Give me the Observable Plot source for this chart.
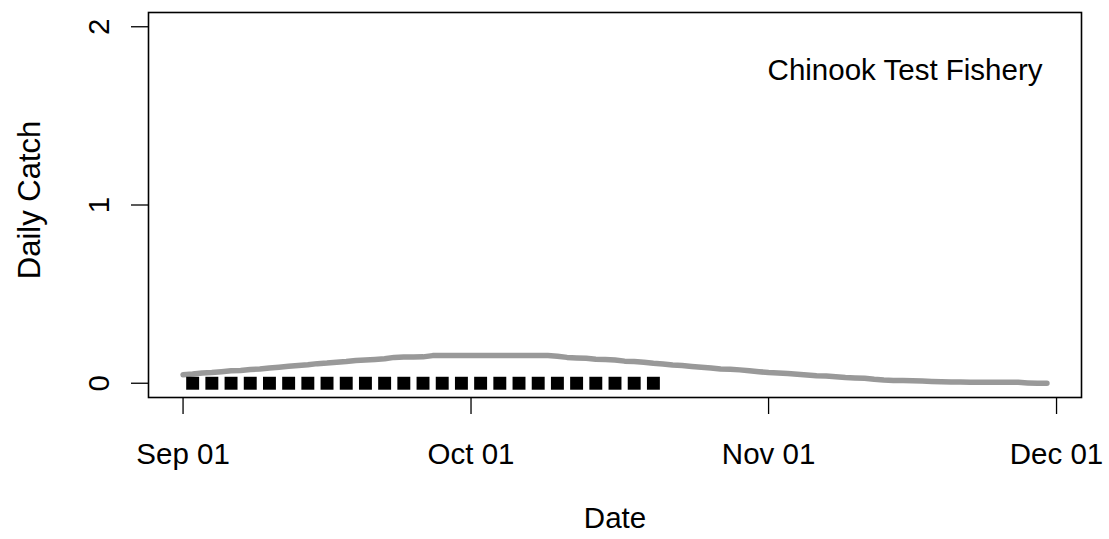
<!DOCTYPE html>
<html><head><meta charset="utf-8">
<script src="https://cdn.jsdelivr.net/npm/d3@7"></script>
<script src="https://cdn.jsdelivr.net/npm/@observablehq/plot@0.6"></script>
<style>body{margin:0;background:#fff;font-family:"Liberation Sans",Arial,sans-serif}</style>
</head><body><div id="chart"></div>
<script>
// ---- data ----
const modelStartDate = "2015-09-01";
const modelDailyCatch = [
  0.048,0.052,0.058,0.060,0.065,0.070,0.072,0.077,0.080,0.086,
  0.090,0.095,0.100,0.104,0.110,0.113,0.118,0.122,0.128,0.130,
  0.133,0.137,0.145,0.147,0.147,0.148,0.155,0.155,0.155,0.155,
  0.155,0.155,0.155,0.155,0.155,0.155,0.155,0.155,0.155,0.152,
  0.145,0.142,0.140,0.135,0.133,0.130,0.124,0.122,0.118,0.112,
  0.108,0.102,0.099,0.094,0.090,0.086,0.080,0.078,0.075,0.070,
  0.065,0.060,0.058,0.054,0.050,0.046,0.042,0.040,0.036,0.032,
  0.030,0.028,0.022,0.018,0.016,0.015,0.014,0.012,0.010,0.008,
  0.007,0.007,0.006,0.006,0.006,0.006,0.005,0.005,0.002,0.000,0.000
];
const sampleDates = [
  "2015-09-02","2015-09-04","2015-09-06","2015-09-08","2015-09-10",
  "2015-09-12","2015-09-14","2015-09-16","2015-09-18","2015-09-20",
  "2015-09-22","2015-09-24","2015-09-26","2015-09-28","2015-09-30",
  "2015-10-02","2015-10-04","2015-10-06","2015-10-08","2015-10-10",
  "2015-10-12","2015-10-14","2015-10-16","2015-10-18","2015-10-20"
];
const sampleCatch = [0,0,0,0,0,0,0,0,0,0,0,0,0,0,0,0,0,0,0,0,0,0,0,0,0];
const xTickDates = ["2015-09-01","2015-10-01","2015-11-01","2015-12-01"];
const xTickLabels = ["Sep 01","Oct 01","Nov 01","Dec 01"];
const yTicks = [0, 1, 2];
const yTickLabels = ["0", "1", "2"];
const xLabel = "Date";
const yLabel = "Daily Catch";
const legendLabel = "Chinook Test Fishery";

// ---- build tables ----
const start = new Date(modelStartDate);
const modelRows = modelDailyCatch.map((v, i) => ({date: d3.utcDay.offset(start, i), catch: v}));
const sampleRows = sampleDates.map((d, i) => ({date: new Date(d), catch: sampleCatch[i]}));
const xTicks = xTickDates.map(d => new Date(d));
const xLabelMap = new Map(xTicks.map((d, i) => [+d, xTickLabels[i]]));

// R-style 4% padding
const ext = d3.extent(modelRows, d => d.date);
const span = ext[1] - ext[0];
const xDomain = [new Date(+ext[0] - 0.04 * span), new Date(+ext[1] + 0.04 * span)];
const yExt = [0, 2];
const yDomain = [yExt[0] - 0.04 * (yExt[1] - yExt[0]), yExt[1] + 0.04 * (yExt[1] - yExt[0])];

const FS = 29.5;
const chart = Plot.plot({
  width: 1109,
  height: 539,
  marginLeft: 148,
  marginRight: 28,
  marginTop: 12,
  marginBottom: 142,
  style: {fontFamily: '"Liberation Sans", Arial, sans-serif', background: "#fff", color: "#000"},
  x: {type: "utc", domain: xDomain},
  y: {domain: yDomain},
  marks: [
    Plot.frame({stroke: "#000", strokeWidth: 1.6}),
    Plot.axisX(xTicks, {anchor: "bottom", tickSize: 17, tickPadding: 29, fontSize: FS,
      tickFormat: d => xLabelMap.get(+d), label: null, strokeWidth: 1.3}),
    Plot.axisY(yTicks, {anchor: "left", tickSize: 17, tickFormat: () => "", label: null, strokeWidth: 1.3}),
    Plot.text(yTicks, {y: d => d, frameAnchor: "left", dx: -40, rotate: -90,
      textAnchor: "middle", lineAnchor: "bottom", fontSize: FS, text: (d, i) => yTickLabels[i]}),
    Plot.text([yLabel], {frameAnchor: "left", dx: -109, dy: -5, rotate: -90,
      textAnchor: "middle", lineAnchor: "bottom", fontSize: 31, text: d => d}),
    Plot.text([xLabel], {frameAnchor: "bottom", dy: 130, lineAnchor: "bottom",
      textAnchor: "middle", fontSize: FS, text: d => d}),
    Plot.text([legendLabel], {frameAnchor: "top-right", dx: -39, dy: 67,
      textAnchor: "end", lineAnchor: "bottom", fontSize: FS, text: d => d}),
    Plot.line(modelRows, {x: "date", y: "catch", stroke: "#999999", strokeWidth: 5.5,
      strokeLinecap: "round", strokeLinejoin: "round"}),
    Plot.dot(sampleRows, {x: "date", y: "catch", symbol: "square", r: 7.3, fill: "#000", stroke: null})
  ]
});
document.getElementById("chart").appendChild(chart);
</script>
</body></html>
